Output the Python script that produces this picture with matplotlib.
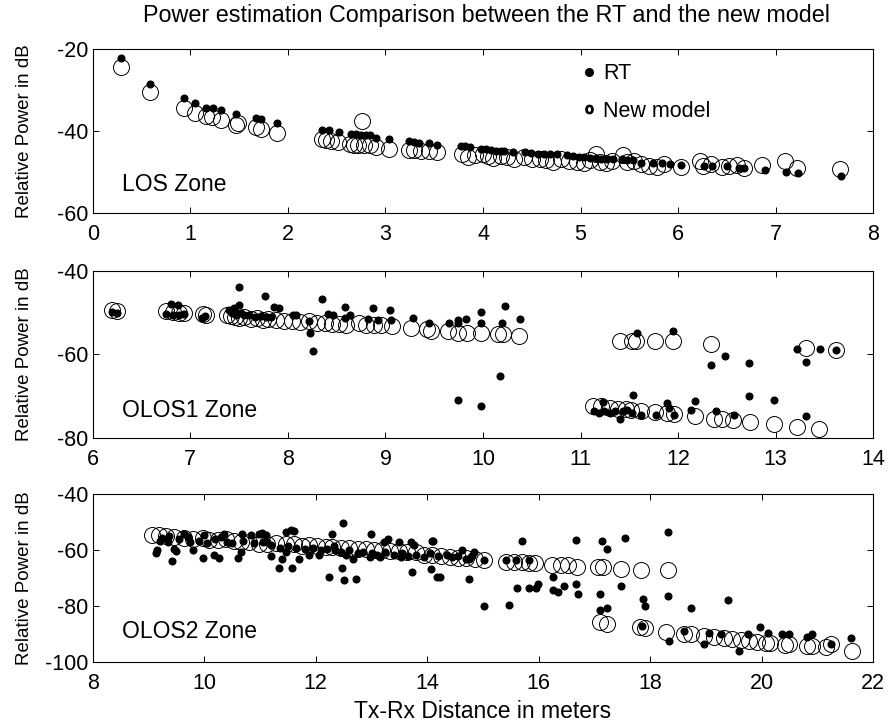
import matplotlib
matplotlib.use("Agg")
import matplotlib.pyplot as plt
from matplotlib.lines import Line2D

plt.rcParams["font.family"] = ["Liberation Sans", "DejaVu Sans"]
plt.rcParams["axes.unicode_minus"] = False

# ---- LOS zone ----
los_rt_x = [0.29, 0.59, 0.93, 1.05, 1.16, 1.23, 1.31, 1.47, 1.67, 1.72, 1.89,
            2.35, 2.42, 2.52, 2.65, 2.70, 2.75, 2.80, 2.84, 2.90, 3.04, 3.24, 3.29,
            3.34, 3.45, 3.53, 3.77, 3.82, 3.87, 3.98, 4.03, 4.08, 4.13, 4.18, 4.22,
            4.31, 4.43, 4.49, 4.56, 4.62, 4.69, 4.76, 4.86, 4.92, 4.98, 5.04, 5.10,
            5.16, 5.21, 5.27, 5.33, 5.42, 5.48, 5.54, 5.62, 5.74, 5.83, 5.92, 6.03,
            6.27, 6.35, 6.50, 6.62, 6.67, 6.89, 7.11, 7.23, 7.67]
los_rt_y = [-22.4, -28.5, -32.1, -33.3, -34.4, -34.4, -35.0, -35.9, -36.8, -37.2, -38.2,
            -39.8, -39.8, -40.3, -40.7, -40.9, -41.0, -41.0, -41.0, -41.7, -42.1, -42.5, -42.7,
            -43.0, -43.1, -43.6, -43.8, -43.8, -44.0, -44.5, -44.5, -44.8, -45.0, -45.0, -45.0,
            -45.1, -45.3, -45.5, -45.6, -45.8, -45.8, -45.8, -46.0, -46.2, -46.4, -46.4, -46.6,
            -46.6, -46.8, -46.8, -46.8, -47.0, -47.2, -47.2, -47.8, -47.8, -48.0, -48.2, -48.3,
            -48.5, -48.5, -48.7, -49.0, -49.2, -49.6, -50.1, -50.3, -51.0]
los_new_x = [0.29, 0.59, 0.93, 1.05, 1.16, 1.22, 1.31, 1.47, 1.49, 1.67, 1.72, 1.89,
             2.35, 2.39, 2.44, 2.51, 2.64, 2.68, 2.72, 2.76, 2.78, 2.84, 2.90, 3.04,
             3.24, 3.29, 3.36, 3.45, 3.53, 3.78, 3.85, 3.92, 4.00, 4.05, 4.10, 4.18,
             4.25, 4.32, 4.42, 4.50, 4.58, 4.65, 4.72, 4.80, 4.88, 4.96, 5.04, 5.10,
             5.16, 5.20, 5.26, 5.32, 5.43, 5.48, 5.55, 5.62, 5.70, 5.78, 5.85, 6.03,
             6.22, 6.25, 6.34, 6.45, 6.52, 6.60, 6.68, 6.86, 7.10, 7.22, 7.66]
los_new_y = [-24.5, -30.6, -34.4, -35.8, -36.4, -36.6, -37.5, -38.5, -38.2, -39.0, -39.5, -40.5,
             -42.1, -42.3, -42.5, -42.7, -43.3, -43.6, -43.6, -37.6, -43.6, -43.4, -43.9, -44.4,
             -44.6, -44.8, -45.0, -45.0, -45.2, -45.8, -46.5, -46.0, -45.8, -46.2, -46.6, -46.2,
             -46.4, -46.8, -46.4, -46.8, -47.0, -47.2, -47.6, -47.0, -47.4, -47.6, -47.8, -47.2,
             -45.8, -47.6, -48.0, -47.4, -45.9, -47.6, -47.4, -48.2, -48.6, -48.9, -48.2, -48.8,
             -47.4, -48.6, -48.2, -48.8, -48.6, -48.4, -49.2, -48.3, -47.4, -49.1, -49.4]

# ---- OLOS1 zone ----
olos1_rt_x = [6.20, 6.25, 6.75, 6.80, 6.82, 6.87, 6.88, 6.94, 7.12, 7.15, 7.40, 7.43,
              7.45, 7.47, 7.50, 7.50, 7.52, 7.55, 7.60, 7.66, 7.72, 7.77, 7.78, 7.83,
              7.86, 7.91, 8.05, 8.08, 8.22, 8.23, 8.26, 8.35, 8.41, 8.46, 8.59, 8.59,
              8.64, 8.82, 8.87, 8.92, 9.05, 9.06, 9.28, 9.45, 9.65, 9.74, 9.74, 9.83,
              9.98, 9.98, 10.19, 10.23, 10.38, 10.17, 9.74, 9.98, 11.58, 11.95, 12.48,
              12.34, 12.73, 13.22, 13.31, 13.45, 13.62, 12.73, 12.98, 13.31, 11.54,
              11.14, 11.19, 11.23, 11.24, 11.30, 11.35, 11.40, 11.43, 11.48, 11.53,
              11.62, 11.77, 11.89, 11.91, 11.96, 12.13, 12.17, 12.39, 12.57]
olos1_rt_y = [-49.8, -50.1, -50.3, -47.9, -50.5, -48.1, -50.5, -50.4, -51.3, -50.9, -49.3, -50.0,
              -49.0, -50.5, -43.9, -48.1, -50.2, -50.5, -50.6, -51.0, -50.8, -46.1, -51.0, -51.0,
              -48.7, -48.9, -50.6, -50.6, -52.0, -55.0, -59.2, -46.7, -50.3, -50.5, -48.7, -51.4,
              -50.6, -51.5, -48.9, -51.7, -49.4, -51.7, -51.4, -52.5, -52.5, -51.7, -52.5, -51.5,
              -49.8, -52.5, -52.5, -48.5, -51.5, -65.3, -70.9, -72.3, -54.8, -54.4, -60.4,
              -62.6, -62.1, -58.8, -61.8, -58.8, -58.9, -70.1, -70.9, -74.9, -69.7,
              -73.6, -74.0, -71.5, -73.6, -74.0, -73.6, -75.6, -73.6, -73.4, -74.0,
              -74.6, -74.6, -71.6, -72.8, -74.6, -73.4, -71.1, -73.7, -74.6]
olos1_new_x = [6.20, 6.25, 6.75, 6.82, 6.88, 6.94, 7.13, 7.16, 7.38, 7.42, 7.46, 7.50,
               7.55, 7.62, 7.68, 7.74, 7.80, 7.88, 7.96, 8.04, 8.12, 8.22, 8.30, 8.38,
               8.45, 8.52, 8.60, 8.73, 8.80, 8.88, 8.95, 9.07, 9.26, 9.43, 9.47, 9.64,
               9.74, 9.84, 9.98, 10.15, 10.20, 10.37, 11.40, 11.53, 11.57, 11.76, 11.95,
               12.34, 13.31, 13.62, 11.13, 11.21, 11.30, 11.38, 11.47, 11.52, 11.62,
               11.76, 11.89, 11.96, 12.17, 12.37, 12.45, 12.56, 12.74, 12.98, 13.22, 13.44]
olos1_new_y = [-49.3, -49.7, -49.7, -49.9, -50.1, -50.1, -50.3, -50.5, -50.6, -50.8, -51.0, -51.2,
               -51.0, -51.5, -51.3, -51.7, -51.5, -51.9, -52.1, -52.1, -52.3, -52.1, -52.5, -52.5,
               -52.7, -52.7, -53.0, -52.5, -52.9, -53.0, -53.0, -53.3, -53.8, -54.0, -54.5, -54.5,
               -54.9, -54.9, -54.9, -55.2, -55.2, -55.5, -56.7, -56.7, -56.7, -56.7, -56.9,
               -57.6, -58.6, -59.0, -72.3, -72.5, -72.8, -73.0, -73.1, -73.3, -73.6,
               -73.8, -74.0, -74.2, -74.8, -75.4, -75.6, -75.7, -76.2, -76.7, -77.3, -77.9]

# ---- OLOS2 zone ----
olos2_rt_x = [9.13, 9.16, 9.25, 9.42, 9.46, 9.49, 9.37, 9.64, 9.79, 9.70, 9.97, 10.00,
              10.18, 10.30, 10.36, 10.27, 10.60, 10.66, 10.67, 10.84, 10.99, 11.04, 11.10,
              11.13, 11.19, 11.34, 11.46, 11.40, 11.58, 11.55, 11.61, 11.46, 11.70, 11.88,
              12.06, 12.24, 12.30, 12.33, 12.47, 12.48, 12.50, 12.55, 12.72, 12.66, 12.99,
              12.97, 13.16, 13.22, 13.30, 13.49, 13.52, 13.70, 13.73, 13.76, 14.09, 14.06,
              14.18, 14.11, 14.22, 14.63, 14.74, 14.84, 14.75, 15.02, 15.02, 15.42, 15.47,
              15.60, 15.61, 15.70, 15.82, 15.82, 15.95, 15.98, 16.25, 16.25, 16.34, 16.45,
              16.66, 16.66, 16.71, 17.09, 17.13, 17.23, 17.54, 17.47, 17.10, 17.23, 17.87,
              17.90, 17.85, 18.31, 18.31, 18.34, 18.73, 18.60, 18.96, 19.06, 19.27, 19.40,
              19.59, 19.75, 19.96, 20.11, 20.36, 20.48, 20.81, 20.90, 21.25, 21.60,
              9.20, 9.35, 9.55, 9.75, 9.90, 10.05, 10.20, 10.40, 10.50, 10.70, 10.90, 11.05,
              11.20, 11.35, 11.50, 11.65, 11.80, 11.95, 12.10, 12.20, 12.35, 12.45, 12.60,
              12.75, 12.85, 13.00, 13.10, 13.25, 13.40, 13.55, 13.65, 13.80, 13.95, 14.05,
              14.20, 14.35, 14.45, 14.55, 14.70, 14.80]
olos2_rt_y = [-61.0, -59.8, -55.5, -63.9, -59.5, -60.3, -55.0, -54.1, -60.0, -55.3, -62.7, -54.7,
              -61.8, -55.3, -54.3, -62.7, -62.7, -60.6, -54.1, -54.7, -54.1, -53.8, -54.7,
              -57.1, -62.2, -66.3, -53.5, -63.0, -66.3, -52.6, -53.1, -60.6, -63.0, -61.8,
              -61.8, -69.6, -54.1, -58.5, -66.3, -50.3, -70.8, -61.8, -70.2, -63.0, -54.1,
              -62.4, -62.4, -57.1, -56.1, -57.1, -62.4, -57.1, -67.8, -58.0, -56.7, -66.6,
              -69.6, -56.8, -69.6, -59.8, -70.3, -60.6, -63.0, -63.3, -80.0, -63.3, -79.4,
              -63.6, -73.4, -56.7, -63.6, -73.4, -73.4, -72.2, -69.6, -74.1, -75.0, -72.9,
              -56.2, -72.2, -75.6, -75.6, -56.7, -59.5, -55.5, -72.9, -81.3, -80.7, -77.4,
              -80.0, -87.1, -53.5, -76.2, -92.3, -80.7, -88.7, -93.5, -89.6, -90.1, -77.9,
              -96.1, -90.1, -87.5, -89.6, -90.1, -90.1, -91.1, -89.9, -93.5, -91.2,
              -56.5, -57.0, -56.0, -57.0, -56.5, -57.5, -56.0, -57.0, -57.5, -56.5, -57.5, -57.0,
              -58.0, -59.0, -58.5, -59.0, -59.5, -59.0, -60.0, -59.5, -60.0, -60.5, -60.0,
              -61.0, -60.5, -61.0, -61.5, -60.5, -61.5, -61.0, -62.0, -61.5, -62.5, -61.0,
              -62.0, -61.5, -62.5, -62.0, -63.0, -62.0]
olos2_new_x = [9.07, 9.19, 9.31, 9.46, 9.64, 9.79, 9.97, 10.09, 10.24, 10.39, 10.54, 10.66,
               10.81, 10.99, 11.13, 11.28, 11.46, 11.61, 11.76, 11.88, 12.03, 12.18, 12.30,
               12.45, 12.60, 12.75, 12.90, 13.04, 13.19, 13.34, 13.49, 13.64, 13.79, 13.94,
               14.09, 14.25, 14.40, 14.55, 14.70, 14.85, 15.02, 15.41, 15.55, 15.70, 15.82,
               15.94, 16.24, 16.39, 16.53, 16.68, 17.07, 17.16, 17.48, 17.84, 18.31, 17.10,
               17.23, 17.81, 17.90, 18.28, 18.61, 18.73, 18.97, 19.15, 19.32, 19.47, 19.62,
               19.77, 19.92, 20.07, 20.15, 20.42, 20.48, 20.81, 20.90, 21.16, 21.25, 21.62]
olos2_new_y = [-54.7, -54.7, -55.0, -55.2, -55.5, -55.8, -55.5, -56.2, -56.2, -56.0, -56.5, -57.0,
               -57.0, -57.7, -57.7, -57.5, -57.9, -57.8, -58.3, -58.0, -58.3, -58.9, -58.9,
               -59.1, -59.0, -59.5, -59.5, -60.0, -60.0, -60.3, -60.3, -60.6, -60.6, -61.5,
               -61.8, -62.0, -62.3, -62.6, -62.9, -63.1, -63.3, -64.2, -64.2, -64.2, -64.6,
               -64.6, -65.4, -65.4, -65.4, -65.8, -66.0, -66.0, -66.6, -67.2, -67.0, -85.7,
               -86.5, -87.5, -87.7, -89.3, -89.9, -90.1, -90.5, -91.1, -91.3, -91.7, -92.0,
               -92.5, -92.9, -93.2, -93.0, -93.7, -93.5, -94.1, -94.1, -94.7, -93.5, -96.0]

panels = [
    (los_rt_x, los_rt_y, los_new_x, los_new_y, (0, 8), (-60, -20), [-60, -40, -20], "LOS Zone", -53.2),
    (olos1_rt_x, olos1_rt_y, olos1_new_x, olos1_new_y, (6, 14), (-80, -40), [-80, -60, -40], "OLOS1 Zone", -73.5),
    (olos2_rt_x, olos2_rt_y, olos2_new_x, olos2_new_y, (8, 22), (-100, -40), [-100, -80, -60, -40], "OLOS2 Zone", -89.0),
]
rects = [
    [0.104, 0.707, 0.875, 0.226],
    [0.104, 0.397, 0.875, 0.230],
    [0.104, 0.088, 0.875, 0.231],
]

fig = plt.figure(figsize=(8.92, 7.26), dpi=100)
for rect, (rx, ry, nx, ny, xlim, ylim, yticks, zone, zy) in zip(rects, panels):
    ax = fig.add_axes(rect)
    ax.plot(nx, ny, linestyle="none", marker="o", ms=11.5, mfc="none", mec="black", mew=0.7)
    ax.plot(rx, ry, linestyle="none", marker="o", ms=4.8, mfc="black", mec="black")
    ax.set_xlim(*xlim)
    ax.set_ylim(*ylim)
    ax.set_yticks(yticks)
    ax.tick_params(direction="in", top=True, right=True, labelsize=15.5, length=4, width=0.7)
    ax.tick_params(axis="x", pad=8)
    for s in ax.spines.values():
        s.set_linewidth(0.8)
    ax.set_ylabel("Relative Power in dB", fontsize=13.5)
    ax.yaxis.set_label_coords(-0.077, 0.5)
    ax.text(xlim[0] + 0.038 * (xlim[1] - xlim[0]), zy, zone, fontsize=16.5, va="center")
    if zone == "LOS Zone":
        key = [
            Line2D([], [], linestyle="none", marker="o", ms=5.5, color="black", label="RT"),
            Line2D([], [], linestyle="none", marker="$\\mathrm{o}$", ms=6, color="black", label="New model"),
        ]
        ax.legend(handles=key, loc="upper left", bbox_to_anchor=(0.628, 0.91), frameon=False,
                  fontsize=15.5, handlelength=0.6, handletextpad=0.35, labelspacing=0.75,
                  borderpad=0, borderaxespad=0)
    if zone == "OLOS2 Zone":
        ax.set_xlabel("Tx-Rx Distance in meters", fontsize=16.5, labelpad=4)

fig.text(0.545, 0.978, "Power estimation Comparison between the RT and the new model",
         fontsize=16.8, ha="center", va="center")

fig.savefig("out.png", dpi=100)
